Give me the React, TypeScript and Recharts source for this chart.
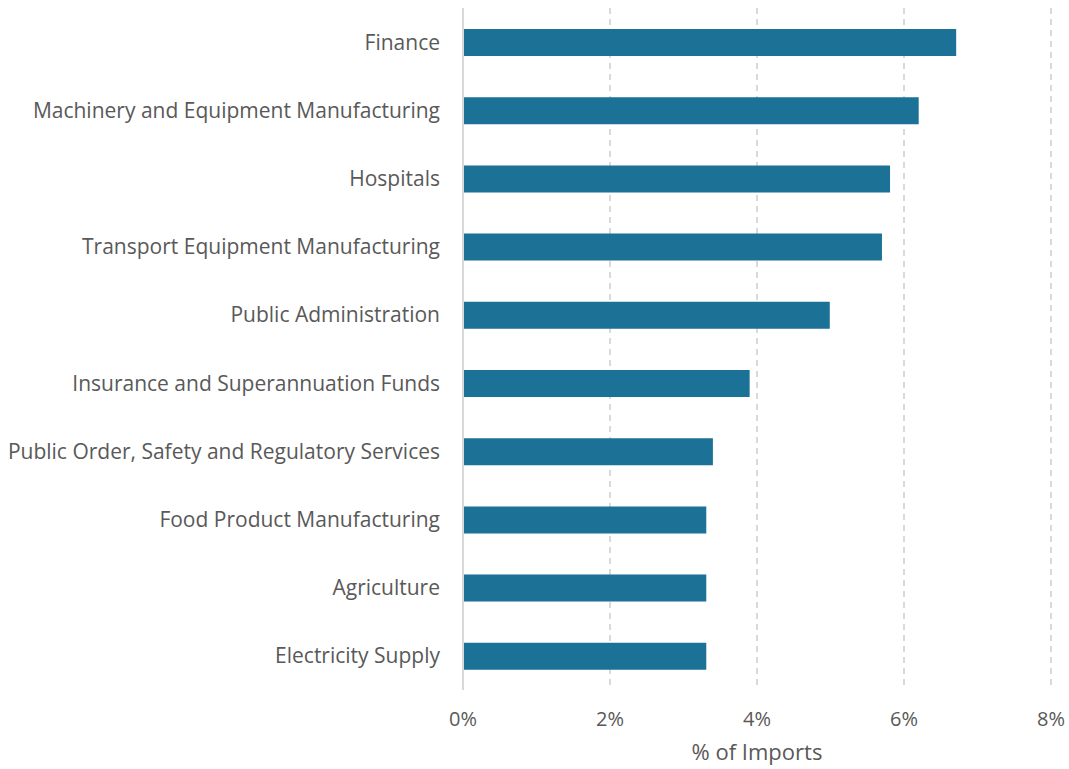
import { BarChart, Bar, XAxis, YAxis, CartesianGrid } from 'recharts'

const industries = [
  'Finance',
  'Machinery and Equipment Manufacturing',
  'Hospitals',
  'Transport Equipment Manufacturing',
  'Public Administration',
  'Insurance and Superannuation Funds',
  'Public Order, Safety and Regulatory Services',
  'Food Product Manufacturing',
  'Agriculture',
  'Electricity Supply',
]

// share of imports, in %
const shares = [6.71, 6.2, 5.81, 5.7, 4.99, 3.9, 3.4, 3.31, 3.31, 3.31]

const xTicks = [0, 2, 4, 6, 8]

const data = industries.map((name, i) => ({ name, value: shares[i] }))

const FONT = '"Open Sans", sans-serif'
const TEXT = '#595959'

export default function App() {
  return (
    <div style={{ position: 'absolute', left: 0, top: 0, background: '#fff' }}>
      <BarChart
        layout="vertical"
        width={1069}
        height={769}
        data={data}
        margin={{ top: 8, right: 18, bottom: 7, left: 0 }}
        style={{ fontFamily: FONT }}
      >
        <CartesianGrid
          horizontal={false}
          stroke="#d9d9d9"
          strokeWidth={2}
          strokeDasharray="6 5"
        />
        <XAxis
          type="number"
          domain={[0, 8]}
          ticks={xTicks}
          tickFormatter={(v: number) => `${v}%`}
          axisLine={false}
          tickLine={false}
          tickSize={0}
          tickMargin={22}
          height={72}
          tick={{ fill: TEXT, fontSize: 20, fontFamily: FONT }}
          label={{
            value: '% of Imports',
            position: 'insideBottom',
            offset: 2,
            fill: TEXT,
            fontSize: 22,
            fontFamily: FONT,
          }}
        />
        <YAxis
          type="category"
          dataKey="name"
          width={463}
          axisLine={{ stroke: '#d9d9d9', strokeWidth: 2 }}
          tickLine={false}
          tickSize={0}
          tickMargin={23}
          interval={0}
          tick={{ fill: TEXT, fontSize: 21, fontFamily: FONT }}
        />
        <Bar dataKey="value" fill="#1b7196" barSize={27} isAnimationActive={false} />
      </BarChart>
    </div>
  )
}
